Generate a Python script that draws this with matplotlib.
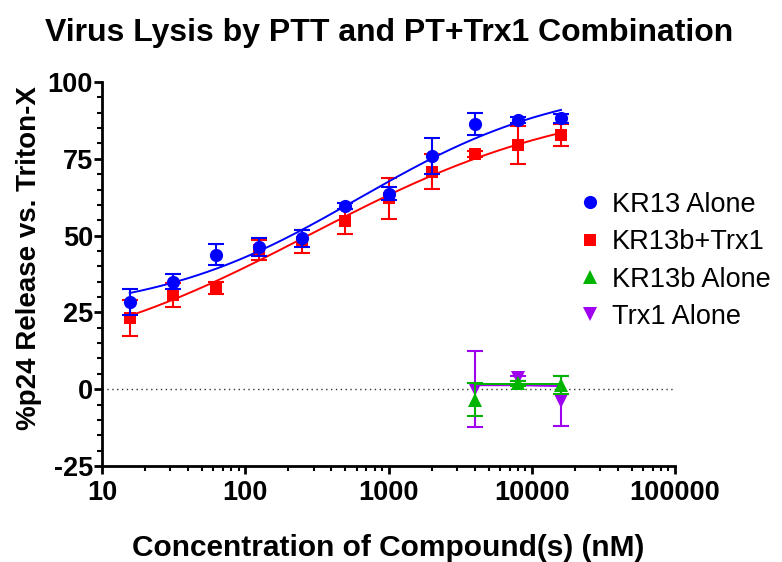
import numpy as np
import matplotlib
matplotlib.use("Agg")
import matplotlib.pyplot as plt
from matplotlib.ticker import FixedLocator, NullFormatter, LogLocator
from matplotlib.lines import Line2D

plt.rcParams['font.family'] = ['Liberation Sans', 'DejaVu Sans']
plt.rcParams['axes.unicode_minus'] = False

# ---- data ----
conc = [15.625, 31.25, 62.5, 125, 250, 500, 1000, 2000, 4000, 8000, 16000]
kr13_mean = [28.5, 35.0, 43.8, 46.2, 49.1, 59.6, 63.7, 75.9, 86.2, 87.6, 88.2]
kr13_err = [4.2, 2.5, 3.5, 3.0, 2.7, 1.0, 2.0, 6.0, 3.6, 1.0, 1.5]
combo_mean = [23.2, 30.6, 33.0, 45.3, 48.0, 54.6, 62.1, 70.8, 76.5, 79.5, 82.7]
combo_err = [5.8, 4.0, 2.0, 3.3, 3.8, 4.0, 6.7, 5.7, 1.0, 6.2, 3.5]

conc_single = [4000, 8000, 16000]
kr13b_mean = [-3.4, 1.9, 1.3]
kr13b_err = [5.3, 0.8, 3.0]
trx1_mean = [0.0, 3.5, -3.8]
trx1_err = [12.3, 0.8, 8.2]
kr13b_fit = [1.6, 1.6, 1.6]
trx1_fit = [1.3, 1.3, 1.0]

labels = ["KR13 Alone", "KR13b+Trx1", "KR13b Alone", "Trx1 Alone"]
colors = ["#0000FF", "#FF0000", "#00B400", "#A000F0"]
x_ticks = [10, 100, 1000, 10000, 100000]
x_ticklabels = ["10", "100", "1000", "10000", "100000"]
y_ticks = [-25, 0, 25, 50, 75, 100]


def fit_4pl(x, y):
    """Least-squares 4-parameter logistic fit (log dose)."""
    lx = np.log10(np.asarray(x, float))
    y = np.asarray(y, float)
    best = None
    for ec in np.arange(0.5, 6.0, 0.01):
        for h in np.arange(0.1, 3.0, 0.02):
            f = 1.0 / (1.0 + 10 ** ((ec - lx) * h))
            A = np.column_stack([1 - f, f])
            coef, res, *_ = np.linalg.lstsq(A, y, rcond=None)
            r = np.sum((A @ coef - y) ** 2)
            if best is None or r < best[0]:
                best = (r, ec, h, coef[0], coef[1])
    _, ec, h, bot, top = best
    return lambda xx: bot + (top - bot) / (1 + 10 ** ((ec - np.log10(xx)) * h))


fig = plt.figure(figsize=(7.82, 5.62), dpi=100)
ax = fig.add_axes([102 / 782, 1 - 466 / 562, (675 - 102) / 782, (466 - 82) / 562])

ax.axhline(0, color="#333333", lw=1.0, ls=(0, (1, 2.5)), zorder=1)

xs = np.logspace(np.log10(conc[0]), np.log10(conc[-1]), 300)

series = [
    (conc_single, trx1_mean, trx1_err, None, "v", 2),
    (conc_single, kr13b_mean, kr13b_err, None, "^", 3),
    (conc, combo_mean, combo_err, True, "s", 4),
    (conc, kr13_mean, kr13_err, True, "o", 5),
]
idx = [3, 2, 1, 0]
fits = [trx1_fit, kr13b_fit, None, None]
msizes = {"o": 9.5, "s": 9.0, "^": 10, "v": 10}
for (x, m, e, dofit, mk, z), i, fv in zip(series, idx, fits):
    c = colors[i]
    ax.errorbar(x, m, yerr=e, fmt="none", ecolor=c, elinewidth=1.5,
                capsize=5.5, capthick=1.5, zorder=z)
    if dofit:
        f = fit_4pl(x, m)
        ax.plot(xs, f(xs), color=c, lw=1.4, zorder=z)
    else:
        ax.plot(x, fv, color=c, lw=1.4, zorder=z)
    ax.plot(x, m, ls="none", marker=mk, color=c, ms=msizes[mk], mew=0, zorder=z + 0.5)

ax.set_xscale("log")
ax.set_xlim(10, 100000)
ax.set_ylim(-25, 100)
ax.set_xticks(x_ticks)
ax.set_xticklabels(x_ticklabels)
ax.xaxis.set_minor_locator(LogLocator(base=10, subs=np.arange(2, 10)))
ax.xaxis.set_minor_formatter(NullFormatter())
ax.set_yticks(y_ticks)
ax.yaxis.set_minor_locator(FixedLocator(np.arange(-25, 101, 5)))

for s in ["top", "right"]:
    ax.spines[s].set_visible(False)
for s in ["left", "bottom"]:
    ax.spines[s].set_linewidth(2.0)

ax.tick_params(axis="both", which="major", length=6, width=2, direction="out",
               labelsize=19.5)
ax.tick_params(axis="both", which="minor", length=3.5, width=1.5, direction="out")
for lab in ax.get_xticklabels() + ax.get_yticklabels():
    lab.set_fontweight("bold")
ax.tick_params(axis="y", pad=0.5)
ax.tick_params(axis="x", pad=4)

ax.set_ylabel("%p24 Release vs. Triton-X", fontsize=20, fontweight="bold")
ax.yaxis.set_label_coords(-0.105, 0.542)
ax.set_xlabel("Concentration of Compound(s) (nM)", fontsize=21.5, fontweight="bold")
ax.xaxis.set_label_coords(0.5, (466 - 534) / 384)
fig.suptitle("Virus Lysis by PTT and PT+Trx1 Combination", fontsize=23,
             fontweight="bold", x=0.497, y=1 - 33 / 562, va="center")

handles = [Line2D([], [], ls="none", marker=mk, color=colors[i], ms=msizes[mk], mew=0)
           for i, mk in enumerate(["o", "s", "^", "v"])]
fig.legend(handles, labels, loc="upper left", bbox_to_anchor=(570 / 782, 1 - 181 / 562),
           frameon=False, fontsize=19.5, handlelength=0.7, handletextpad=0.45,
           labelspacing=0.42, borderaxespad=0)

fig.savefig("out.png", dpi=100)
